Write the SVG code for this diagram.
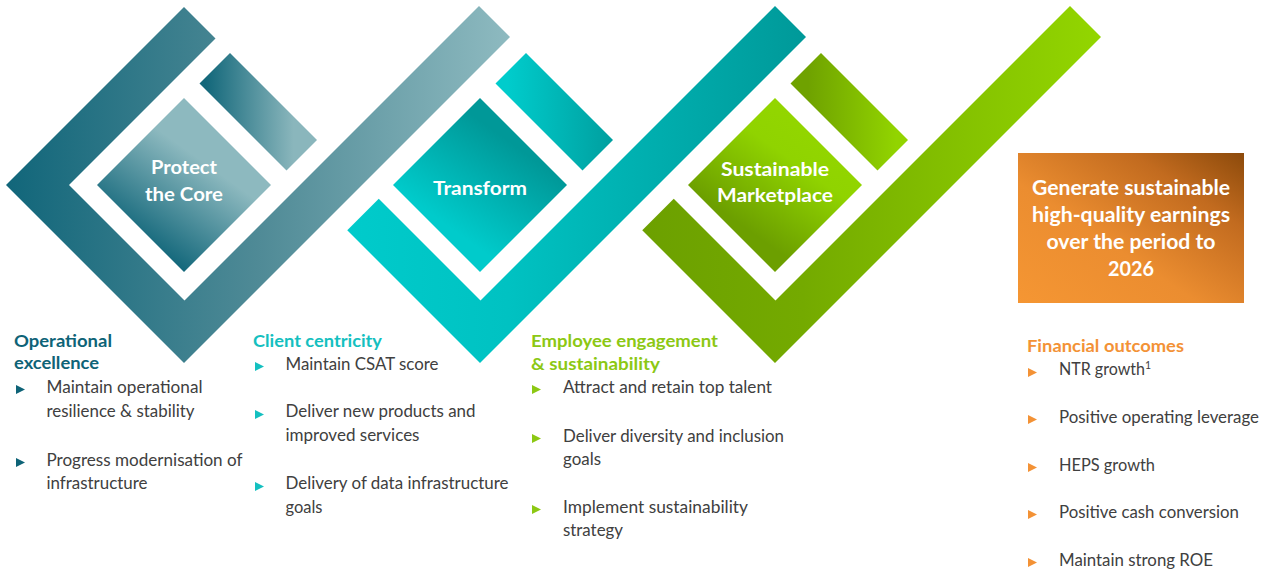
<svg xmlns="http://www.w3.org/2000/svg" width="1266" height="574" viewBox="0 0 1266 574">
<defs>
<linearGradient id="g1arm" x1="0" y1="0" x2="1" y2="0"><stop offset="0" stop-color="#11667a"/><stop offset="0.5" stop-color="#4f8a96"/><stop offset="1" stop-color="#8ebac0"/></linearGradient>
<linearGradient id="g1dia" x1="0.25" y1="0.85" x2="0.75" y2="0.15"><stop offset="0" stop-color="#0e6478"/><stop offset="0.7" stop-color="#8db9bf"/><stop offset="1" stop-color="#8db9bf"/></linearGradient>
<linearGradient id="g1bar" x1="0" y1="0" x2="1" y2="0"><stop offset="0.05" stop-color="#12677a"/><stop offset="0.8" stop-color="#8ab6bc"/></linearGradient>
<linearGradient id="g2arm" x1="0" y1="0" x2="1" y2="0"><stop offset="0" stop-color="#00cbcb"/><stop offset="0.35" stop-color="#00c2c2"/><stop offset="1" stop-color="#009999"/></linearGradient>
<linearGradient id="g2dia" x1="0.25" y1="0.85" x2="0.75" y2="0.15"><stop offset="0.15" stop-color="#00cbcb"/><stop offset="0.85" stop-color="#009898"/></linearGradient>
<linearGradient id="g2bar" x1="0" y1="0" x2="1" y2="0"><stop offset="0.1" stop-color="#00cccc"/><stop offset="1" stop-color="#009f9f"/></linearGradient>
<linearGradient id="g3arm" x1="0" y1="0" x2="1" y2="0"><stop offset="0" stop-color="#6ca000"/><stop offset="0.35" stop-color="#74aa00"/><stop offset="1" stop-color="#93d600"/></linearGradient>
<linearGradient id="g3dia" x1="0.25" y1="0.85" x2="0.75" y2="0.15"><stop offset="0.15" stop-color="#6c9f00"/><stop offset="0.7" stop-color="#90d300"/><stop offset="1" stop-color="#93d600"/></linearGradient>
<linearGradient id="g3bar" x1="0" y1="0" x2="1" y2="0"><stop offset="0.15" stop-color="#6fa200"/><stop offset="0.9" stop-color="#92d400"/></linearGradient>
<linearGradient id="gOr" x1="0" y1="1" x2="1" y2="0"><stop offset="0" stop-color="#f59633"/><stop offset="0.4" stop-color="#eb8d30"/><stop offset="0.75" stop-color="#c26b1f"/><stop offset="1" stop-color="#8c4a0b"/></linearGradient>
<path id="tri" d="M0,-4.5 L9,0 L0,4.5 Z"/>
<style>
.lbl{font-family:Lato,"Liberation Sans",sans-serif;font-weight:700;fill:#ffffff;font-size:19px;text-anchor:middle}
.big{font-family:Lato,"Liberation Sans",sans-serif;font-weight:700;fill:#ffffff;font-size:20px;text-anchor:middle}
.hd{font-family:Lato,"Liberation Sans",sans-serif;font-weight:700;font-size:17px}
.bt{font-family:Lato,"Liberation Sans",sans-serif;font-size:16.5px;fill:#404040}
.sh{stroke-linejoin:round}
</style>
</defs>
<rect width="1266" height="574" fill="#ffffff"/>

<g id="connectors"></g>

<g id="protect-core">
<polygon class="sh" points="6,185 184,7 215.5,38.5 69,185 184.5,300.5 479,6 510,37 184,363" fill="url(#g1arm)"/>
<polygon points="199.5,83.5 230,53 317,140 286.5,170.5" fill="url(#g1bar)"/>
<polygon points="97,185 184,98 271,185 184,272" fill="url(#g1dia)"/>
<text class="lbl" x="184" y="174" textLength="66" lengthAdjust="spacingAndGlyphs">Protect</text>
<text class="lbl" x="184" y="201" textLength="78" lengthAdjust="spacingAndGlyphs">the Core</text>
</g>

<g id="transform" transform="translate(296,0)">
<polygon points="51.25,230.25 82.75,198.75 184.5,300.5 479,6 510,37 184,363" fill="url(#g2arm)"/>
<polygon points="199.5,83.5 230,53 317,140 286.5,170.5" fill="url(#g2bar)"/>
<polygon points="97,185 184,98 271,185 184,272" fill="url(#g2dia)"/>
<text class="lbl" x="184" y="195" textLength="94" lengthAdjust="spacingAndGlyphs">Transform</text>
</g>

<g id="sustainable-marketplace" transform="translate(591,0)">
<polygon points="51.25,230.25 82.75,198.75 184.5,300.5 479,6 510,37 184,363" fill="url(#g3arm)"/>
<polygon points="199.5,83.5 230,53 317,140 286.5,170.5" fill="url(#g3bar)"/>
<polygon points="97,185 184,98 271,185 184,272" fill="url(#g3dia)"/>
<text class="lbl" x="184" y="176" textLength="108" lengthAdjust="spacingAndGlyphs">Sustainable</text>
<text class="lbl" x="184" y="202" textLength="116" lengthAdjust="spacingAndGlyphs">Marketplace</text>
</g>

<g id="goal">
<rect x="1018" y="153" width="226" height="150" fill="url(#gOr)"/>
<text class="big" x="1131" y="195" textLength="198" lengthAdjust="spacingAndGlyphs">Generate sustainable</text>
<text class="big" x="1131" y="222" textLength="198" lengthAdjust="spacingAndGlyphs">high-quality earnings</text>
<text class="big" x="1131" y="249" textLength="169" lengthAdjust="spacingAndGlyphs">over the period to</text>
<text class="big" x="1131" y="276" textLength="46" lengthAdjust="spacingAndGlyphs">2026</text>
</g>

<g id="operational-excellence">
<text class="hd" fill="#0e6377" x="14" y="347" textLength="98" lengthAdjust="spacingAndGlyphs">Operational</text>
<text class="hd" fill="#0e6377" x="14" y="369" textLength="85" lengthAdjust="spacingAndGlyphs">excellence</text>
<use href="#tri" x="16" y="389.5" fill="#0e6377"/>
<use href="#tri" x="16" y="462.5" fill="#0e6377"/>
<text class="bt" x="46.5" y="393" textLength="156" lengthAdjust="spacingAndGlyphs">Maintain operational</text>
<text class="bt" x="46.5" y="417" textLength="148" lengthAdjust="spacingAndGlyphs">resilience &amp; stability</text>
<text class="bt" x="46.5" y="466" textLength="196" lengthAdjust="spacingAndGlyphs">Progress modernisation of</text>
<text class="bt" x="46.5" y="489" textLength="101" lengthAdjust="spacingAndGlyphs">infrastructure</text>
</g>

<g id="client-centricity">
<text class="hd" fill="#14c0c0" x="253" y="347" textLength="129" lengthAdjust="spacingAndGlyphs">Client centricity</text>
<use href="#tri" x="255" y="366.5" fill="#14c0c0"/>
<use href="#tri" x="255" y="414.5" fill="#14c0c0"/>
<use href="#tri" x="255" y="486.5" fill="#14c0c0"/>
<text class="bt" x="285.5" y="370" textLength="153" lengthAdjust="spacingAndGlyphs">Maintain CSAT score</text>
<text class="bt" x="285.5" y="417" textLength="190" lengthAdjust="spacingAndGlyphs">Deliver new products and</text>
<text class="bt" x="285.5" y="441" textLength="134" lengthAdjust="spacingAndGlyphs">improved services</text>
<text class="bt" x="285.5" y="489" textLength="223" lengthAdjust="spacingAndGlyphs">Delivery of data infrastructure</text>
<text class="bt" x="285.5" y="513" textLength="37" lengthAdjust="spacingAndGlyphs">goals</text>
</g>

<g id="employee-engagement">
<text class="hd" fill="#8cc814" x="531" y="347" textLength="187" lengthAdjust="spacingAndGlyphs">Employee engagement</text>
<text class="hd" fill="#8cc814" x="531" y="370" textLength="129" lengthAdjust="spacingAndGlyphs">&amp; sustainability</text>
<use href="#tri" x="532" y="389.5" fill="#8cc814"/>
<use href="#tri" x="532" y="438.5" fill="#8cc814"/>
<use href="#tri" x="532" y="509.5" fill="#8cc814"/>
<text class="bt" x="563" y="393" textLength="209" lengthAdjust="spacingAndGlyphs">Attract and retain top talent</text>
<text class="bt" x="563" y="442" textLength="221" lengthAdjust="spacingAndGlyphs">Deliver diversity and inclusion</text>
<text class="bt" x="563" y="465" textLength="38" lengthAdjust="spacingAndGlyphs">goals</text>
<text class="bt" x="563" y="513" textLength="185" lengthAdjust="spacingAndGlyphs">Implement sustainability</text>
<text class="bt" x="563" y="536" textLength="60" lengthAdjust="spacingAndGlyphs">strategy</text>
</g>

<g id="financial-outcomes">
<text class="hd" fill="#f39236" x="1027" y="352" textLength="157" lengthAdjust="spacingAndGlyphs">Financial outcomes</text>
<use href="#tri" x="1028" y="372.5" fill="#f39236"/>
<use href="#tri" x="1028" y="419.5" fill="#f39236"/>
<use href="#tri" x="1028" y="467.5" fill="#f39236"/>
<use href="#tri" x="1028" y="514.5" fill="#f39236"/>
<use href="#tri" x="1028" y="562.5" fill="#f39236"/>
<text class="bt" x="1059" y="375"><tspan textLength="86" lengthAdjust="spacingAndGlyphs">NTR growth</tspan><tspan font-size="10.5" dy="-6.5">1</tspan></text>
<text class="bt" x="1059" y="423" textLength="200" lengthAdjust="spacingAndGlyphs">Positive operating leverage</text>
<text class="bt" x="1059" y="471" textLength="96" lengthAdjust="spacingAndGlyphs">HEPS growth</text>
<text class="bt" x="1059" y="518" textLength="180" lengthAdjust="spacingAndGlyphs">Positive cash conversion</text>
<text class="bt" x="1059" y="566" textLength="154" lengthAdjust="spacingAndGlyphs">Maintain strong ROE</text>
</g>
</svg>
